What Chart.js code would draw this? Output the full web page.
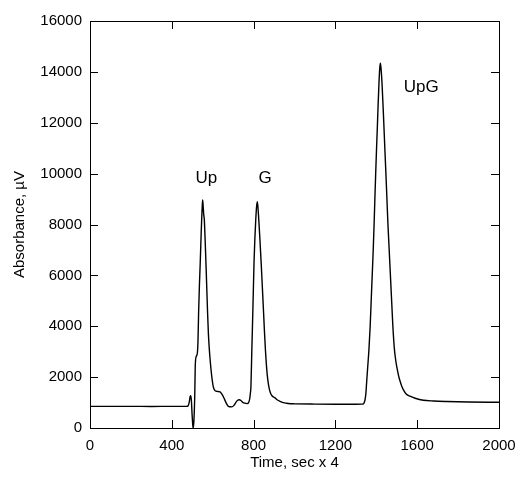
<!DOCTYPE html>
<html>
<head>
<meta charset="utf-8">
<script src="https://cdn.jsdelivr.net/npm/chart.js@4/dist/chart.umd.min.js"></script>
<style>
html,body{margin:0;padding:0;background:#fff;}
#wrap{width:518px;height:481px;}
</style>
</head>
<body>
<div id="wrap"><canvas id="c" width="518" height="481"></canvas></div>
<script>
// Time (sec x 4)
const time = [0,100,200,300,400,470,480,486,490,493,496,499,503,505,508,512,515,520,525,528,531,535,539,543,546,549,551,553,556,559,563,567,571,575,579,583,587,592,597,603,610,620,636,645,655,665,676,685,693,705,715,722,730,738,747,757,768,775,781,784,787,791,796,802,806,810,814,818,821,826,831,837,843,849,853,858,862,866,871,877,884,890,897,905,917,929,945,960,980,1000,1100,1200,1300,1330,1337,1341,1345,1349,1352,1358,1364,1370,1375,1380,1385,1390,1393,1397,1401,1405,1408,1413,1417,1420,1423,1428,1435,1442,1447,1452,1457,1463,1469,1475,1481,1488,1493,1498,1504,1510,1516,1524,1532,1545,1565,1590,1630,1680,1744,1850,2000];
// Absorbance (µV)
const absorbance = [850,850,852,848,850,852,870,1050,1250,1270,1050,560,80,0,280,1200,2500,2820,2950,3400,4500,5600,6490,7500,8190,8750,8970,8750,8400,8190,7400,6490,5500,4520,3700,3150,2720,2280,1920,1620,1480,1440,1420,1330,1180,1000,856,835,830,900,1030,1090,1110,1080,1010,975,960,990,1150,1350,1640,2950,4500,6490,7400,8100,8650,8900,8700,8100,7400,6490,5500,4500,3800,3050,2550,2150,1800,1530,1350,1270,1220,1185,1100,1050,1000,975,955,950,940,935,935,940,950,1000,1120,1350,1700,2400,3080,4000,5000,6000,7010,8200,9000,10000,10940,11800,12500,13550,14150,14340,14150,13550,12300,10940,10000,9000,8000,7010,6000,5000,4000,3150,2780,2500,2250,2020,1850,1650,1510,1350,1250,1170,1090,1060,1040,1020,1010];
// Tick labels
const xTicks = [0,400,800,1200,1600,2000];
const yTicks = [0,2000,4000,6000,8000,10000,12000,14000,16000];
// Peak labels
const peakNames = ["Up","G","UpG"];
const peakX = [569,856,1620];
const peakY = [9627,9627,13223];

const FONT = "'Liberation Sans', Arial, sans-serif";

const framePlugin = {
  id:'frame',
  afterDatasetsDraw(chart){
    const {ctx, chartArea:a, scales:{x,y}} = chart;
    ctx.save();
    ctx.strokeStyle = '#000';
    ctx.lineWidth = 1;
    ctx.strokeRect(Math.round(a.left)+0.5, Math.round(a.top)+0.5, Math.round(a.right-a.left), Math.round(a.bottom-a.top));
    const L = 8;
    ctx.beginPath();
    xTicks.forEach(v=>{
      const px = Math.round(x.getPixelForValue(v))+0.5;
      ctx.moveTo(px, a.bottom); ctx.lineTo(px, a.bottom-L);
      ctx.moveTo(px, a.top); ctx.lineTo(px, a.top+L);
    });
    yTicks.forEach(v=>{
      const py = Math.round(y.getPixelForValue(v))+0.5;
      ctx.moveTo(a.left, py); ctx.lineTo(a.left+L, py);
      ctx.moveTo(a.right, py); ctx.lineTo(a.right-L, py);
    });
    ctx.stroke();
    ctx.fillStyle = '#000';
    ctx.font = '17px ' + FONT;
    ctx.textAlign = 'center';
    ctx.textBaseline = 'alphabetic';
    peakNames.forEach((n,i)=>{
      ctx.fillText(n, x.getPixelForValue(peakX[i]), y.getPixelForValue(peakY[i]));
    });
    ctx.restore();
  }
};

new Chart(document.getElementById('c'), {
  type:'line',
  data:{
    datasets:[{
      data: time.map((t,i)=>({x:t, y:absorbance[i]})),
      borderColor:'#000',
      borderWidth:1.4,
      pointRadius:0,
      tension:0,
      cubicInterpolationMode:'monotone',
      fill:false
    }]
  },
  options:{
    responsive:false,
    animation:false,
    devicePixelRatio:1,
    layout:{padding:{left:0,right:19,top:21,bottom:0}},
    plugins:{legend:{display:false},tooltip:{enabled:false}},
    scales:{
      x:{
        type:'linear', min:0, max:2000,
        afterBuildTicks(s){ s.ticks = xTicks.map(v=>({value:v})); },
        afterFit(s){ s.height = 53; s.paddingLeft = 0; s.paddingRight = 0; },
        grid:{display:false, drawTicks:false},
        border:{display:false},
        ticks:{color:'#000', padding:9, maxRotation:0, font:{family:FONT, size:15}, callback:(v)=>String(v)},
        title:{display:true, text:'Time, sec x 4', color:'#000', font:{family:FONT, size:15}, padding:{top:0,bottom:9}}
      },
      y:{
        type:'linear', min:0, max:16000,
        afterBuildTicks(s){ s.ticks = yTicks.map(v=>({value:v})); },
        afterFit(s){ s.width = 90; s.paddingTop = 0; s.paddingBottom = 0; },
        grid:{display:false, drawTicks:false},
        border:{display:false},
        ticks:{color:'#000', padding:8, font:{family:FONT, size:15}, callback:(v)=>String(v)},
        title:{display:true, text:'Absorbance, µV', color:'#000', font:{family:FONT, size:15}, padding:{top:11,bottom:0}}
      }
    }
  },
  plugins:[framePlugin]
});
</script>
</body>
</html>
